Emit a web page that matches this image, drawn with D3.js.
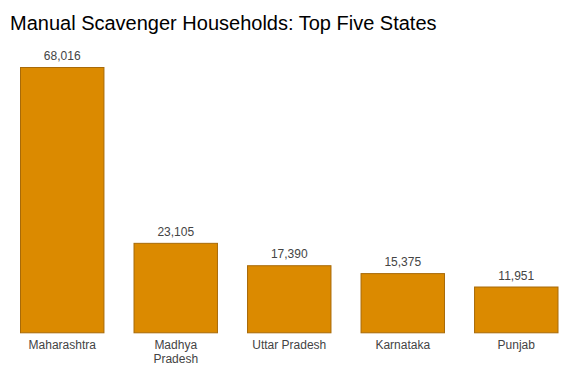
<!DOCTYPE html>
<html><head><meta charset="utf-8">
<script src="https://cdn.jsdelivr.net/npm/d3@7"></script>
<style>
body{margin:0;background:#fff;}
svg{display:block;font-family:"Liberation Sans",Arial,sans-serif;}
</style></head>
<body>
<svg id="chart" width="566" height="370"></svg>
<script>
const title = "Manual Scavenger Households: Top Five States";
const categories = ["Maharashtra", "Madhya Pradesh", "Uttar Pradesh", "Karnataka", "Punjab"];
const categoryLines = [["Maharashtra"], ["Madhya", "Pradesh"], ["Uttar Pradesh"], ["Karnataka"], ["Punjab"]];
const values = [68016, 23105, 17390, 15375, 11951];

const svg = d3.select("#chart");
const baseY = 333.3, topY = 67;
const x = d3.scaleBand().domain(categories).range([20, 558.5]).paddingInner(0.256).paddingOuter(0);
const y = d3.scaleLinear().domain([0, 68016]).range([baseY, topY]);
const fmt = d3.format(",");

svg.append("text").attr("x", 10).attr("y", 29.5).attr("font-size", 20).attr("fill", "#000").text(title);

const data = categories.map((c, i) => ({c, v: values[i], lines: categoryLines[i]}));

svg.selectAll("rect.bar").data(data).join("rect").attr("class", "bar")
  .attr("x", d => x(d.c) + 0.5).attr("y", d => y(d.v) + 0.5)
  .attr("width", x.bandwidth() - 1).attr("height", d => baseY - y(d.v) - 1)
  .attr("fill", "#DB8A00").attr("stroke", "#A86A08").attr("stroke-width", 1);

svg.selectAll("text.val").data(data).join("text").attr("class", "val")
  .attr("x", d => x(d.c) + x.bandwidth() / 2).attr("y", d => y(d.v) - 7)
  .attr("text-anchor", "middle").attr("font-size", 12).attr("fill", "#444")
  .text(d => fmt(d.v));

const lbl = svg.selectAll("text.cat").data(data).join("text").attr("class", "cat")
  .attr("text-anchor", "middle").attr("font-size", 12).attr("fill", "#444");
lbl.selectAll("tspan").data(d => d.lines.map(l => ({l, cx: x(d.c) + x.bandwidth() / 2}))).join("tspan")
  .attr("x", t => t.cx).attr("y", (t, i) => baseY + 16 + i * 13.5).text(t => t.l);
</script>
</body></html>
